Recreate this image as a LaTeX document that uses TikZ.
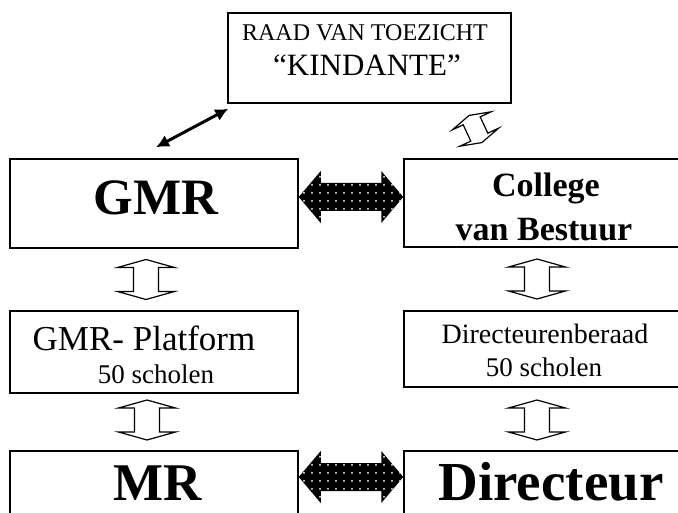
\documentclass[tikz,border=0pt]{standalone}
\usepackage{fontspec}
\setmainfont{Liberation Serif}
\usetikzlibrary{calc,patterns.meta,arrows.meta}
\newcommand\myfs[1]{\fontsize{#1}{#1}\selectfont}
\begin{document}
\begin{tikzpicture}[x=1pt,y=-1pt,
  box/.style={draw=black, line width=1.5pt, rectangle, inner sep=0pt},
  txt/.style={inner sep=0pt, anchor=base},
  bigarrow/.style={preaction={fill=black}, pattern={Dots[distance=8pt,radius=1pt]}, pattern color=white},
  hollow/.style={draw=black, fill=white, line width=1.2pt, line join=miter},
  udarrow/.pic={\draw[hollow] (0,-20) -- (28.5,-12) -- (12.5,-12) -- (12.5,12) -- (28.5,12) -- (0,20) -- (-28.5,12) -- (-12.5,12) -- (-12.5,-12) -- (-28.5,-12) -- cycle;},
  tip/.style={line width=3pt, {Latex[length=13pt,width=13pt]}-{Latex[length=13pt,width=13pt]}}
]
\useasboundingbox (0,0) rectangle (678,513);
\clip (0,0) rectangle (678,513);
\fill[white] (0,0) rectangle (678,513);

% boxes
\node[box, minimum width=283, minimum height=90] (rvt) at (369.5,58) {};
\node[box, minimum width=288, minimum height=89] (gmr) at (154,203.5) {};
\node[box, minimum width=286, minimum height=88] (cvb) at (547,203) {};
\node[box, minimum width=288, minimum height=82] (gmrp) at (154,352) {};
\node[box, minimum width=286, minimum height=76] (dir) at (547,349) {};
\node[box, minimum width=288, minimum height=100] (mr) at (154,501) {};
\node[box, minimum width=286, minimum height=100] (dtr) at (547,501) {};

% texts
\node[txt] (t1) at (365,41) {\myfs{24}RAAD VAN TOEZICHT};
\node[txt] (t2) at (367,76) {\myfs{31}“KINDANTE”};
\node[txt] (t3) at (156,215) {\myfs{51}\bfseries GMR};
\node[txt] (t4) at (546,197) {\myfs{34}\bfseries College};
\node[txt] (t5) at (544,241) {\myfs{34}\bfseries van Bestuur};
\node[txt] (t6) at (144,350) {\myfs{35}GMR- Platform};
\node[txt] (t7) at (156,383) {\myfs{27}50 scholen};
\node[txt] (t8) at (545,344) {\myfs{28}Directeurenberaad};
\node[txt] (t9) at (544,376) {\myfs{27}50 scholen};
\node[txt] (t10) at (158,500) {\myfs{53}\bfseries MR};
\node[txt] (t11) at (551,500) {\myfs{55}\bfseries Directeur};

% big dotted double arrows
\path[bigarrow] let \p1=($(gmr.east)+(0,-6.5)$), \p2=($(cvb.west)+(0,-6)$) in
  (\x1,\y1) -- (\x1+22pt,\y1+26pt) -- (\x1+22pt,\y1+14pt) -- (\x2-22pt,\y1+14pt) -- (\x2-22pt,\y1+26pt) -- (\x2,\y1)
  -- (\x2-22pt,\y1-26pt) -- (\x2-22pt,\y1-14pt) -- (\x1+22pt,\y1-14pt) -- (\x1+22pt,\y1-26pt) -- cycle;
\path[bigarrow] let \p1=($(mr.east)+(0,-24)$), \p2=($(dtr.west)+(0,-24)$) in
  (\x1,\y1) -- (\x1+22pt,\y1+26pt) -- (\x1+22pt,\y1+14pt) -- (\x2-22pt,\y1+14pt) -- (\x2-22pt,\y1+26pt) -- (\x2,\y1)
  -- (\x2-22pt,\y1-26pt) -- (\x2-22pt,\y1-14pt) -- (\x1+22pt,\y1-14pt) -- (\x1+22pt,\y1-26pt) -- cycle;

% small hollow double arrows
\pic at ($(gmr.south)!0.5!(gmrp.north)+(-8,0)$) {udarrow};
\pic at ($(cvb.south)!0.5!(dir.north)+(-10,0)$) {udarrow};
\pic at ($(gmrp.south)!0.5!(mr.north)+(-7,-2)$) {udarrow};
\pic at ($(dir.south)!0.5!(dtr.north)+(-10,1)$) {udarrow};
\pic[rotate=25, scale=0.75] at ($(rvt.south east)!0.5!(cvb.north west)+(18,-2)$) {udarrow};

% diagonal arrow
\draw[tip] ($(gmr.north)+(2,-11)$) -- ($(rvt.south west)+(1,5)$);
\end{tikzpicture}
\end{document}
